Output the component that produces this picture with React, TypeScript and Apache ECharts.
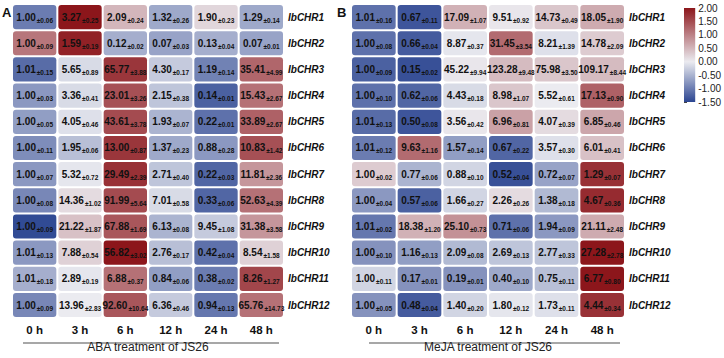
import React, { useEffect, useRef } from 'react';
import * as echarts from 'echarts';

const hours = ['0 h', '3 h', '6 h', '12 h', '24 h', '48 h'];
const genes = ['IbCHR1', 'IbCHR2', 'IbCHR3', 'IbCHR4', 'IbCHR5', 'IbCHR6', 'IbCHR7', 'IbCHR8', 'IbCHR9', 'IbCHR10', 'IbCHR11', 'IbCHR12'];

// ABA treatment: relative expression means and SDs
const abaMean = [
  [1.00, 3.27, 2.09, 1.32, 1.90, 1.29],
  [1.00, 1.59, 0.12, 0.07, 0.13, 0.07],
  [1.01, 5.65, 65.77, 4.30, 1.19, 35.41],
  [1.00, 3.36, 23.01, 2.15, 0.14, 15.43],
  [1.00, 4.05, 43.61, 1.93, 0.22, 33.89],
  [1.00, 1.95, 13.00, 1.37, 0.88, 10.83],
  [1.00, 5.32, 29.49, 2.71, 0.22, 11.81],
  [1.00, 14.36, 91.99, 7.01, 0.33, 52.63],
  [1.00, 21.22, 67.88, 6.13, 9.45, 31.38],
  [1.01, 7.88, 56.82, 2.76, 0.42, 8.54],
  [1.01, 2.89, 6.88, 0.84, 0.38, 8.26],
  [1.00, 13.96, 92.60, 6.36, 0.94, 65.76],
];
const abaSd = [
  [0.06, 0.25, 0.24, 0.26, 0.23, 0.14],
  [0.09, 0.19, 0.02, 0.03, 0.04, 0.01],
  [0.15, 0.89, 3.88, 0.17, 0.14, 4.99],
  [0.03, 0.41, 3.26, 0.38, 0.01, 2.67],
  [0.05, 0.46, 3.78, 0.07, 0.01, 2.67],
  [0.11, 0.06, 0.87, 0.23, 0.28, 1.42],
  [0.07, 0.72, 2.39, 0.40, 0.03, 2.36],
  [0.08, 1.02, 5.64, 0.58, 0.06, 4.39],
  [0.09, 1.87, 1.69, 0.08, 1.08, 3.58],
  [0.13, 0.54, 3.02, 0.17, 0.04, 1.58],
  [0.18, 0.19, 0.37, 0.06, 0.02, 1.27],
  [0.09, 2.83, 10.64, 0.46, 0.13, 14.73],
];
// colour scale values
const abaZ = [
  [-1.0, 2.0, 0.5, -0.6, 0.2, -0.6],
  [1.1, 1.9, -0.55, -0.65, -0.55, -0.65],
  [-1.15, -0.15, 1.7, -0.3, -0.95, 1.25],
  [-0.75, -0.15, 1.45, -0.35, -1.25, 1.15],
  [-0.7, -0.1, 1.5, -0.5, -1.1, 1.3],
  [-0.85, -0.4, 1.7, -0.6, -0.75, 1.45],
  [-0.75, -0.05, 1.75, -0.35, -1.2, 0.8],
  [-0.9, 0.15, 1.5, -0.15, -1.2, 1.15],
  [-1.45, 0.4, 1.4, -0.5, -0.3, 0.8],
  [-0.75, 0.25, 2.0, -0.4, -1.1, 0.25],
  [-0.55, -0.05, 1.15, -0.7, -1.0, 1.55],
  [-0.9, 0.0, 1.4, -0.3, -1.05, 1.15],
];

// MeJA treatment
const mejaMean = [
  [1.01, 0.67, 17.09, 9.51, 14.73, 18.05],
  [1.00, 0.66, 8.87, 31.45, 8.21, 14.78],
  [1.00, 0.15, 45.22, 123.28, 75.98, 109.17],
  [1.00, 0.62, 4.43, 8.98, 5.52, 17.13],
  [1.01, 0.50, 3.56, 6.96, 4.07, 6.85],
  [1.01, 9.63, 1.57, 0.67, 3.57, 6.01],
  [1.00, 0.77, 0.88, 0.52, 0.72, 1.29],
  [1.00, 0.57, 1.66, 2.26, 1.38, 4.67],
  [1.01, 18.38, 25.10, 0.71, 1.94, 21.11],
  [1.00, 1.16, 2.09, 2.69, 2.77, 27.28],
  [1.00, 0.17, 0.19, 0.40, 0.75, 6.77],
  [1.00, 0.48, 1.40, 1.80, 1.73, 4.44],
];
const mejaSd = [
  [0.16, 0.11, 1.07, 0.92, 0.49, 1.90],
  [0.08, 0.04, 0.37, 3.54, 1.39, 2.09],
  [0.09, 0.02, 9.94, 9.48, 3.50, 8.44],
  [0.10, 0.06, 0.18, 1.07, 0.61, 0.90],
  [0.13, 0.08, 0.42, 0.81, 0.39, 0.46],
  [0.12, 1.16, 0.14, 0.22, 0.30, 0.41],
  [0.02, 0.06, 0.10, 0.04, 0.07, 0.07],
  [0.04, 0.06, 0.27, 0.26, 0.18, 0.36],
  [0.02, 1.20, 0.73, 0.06, 0.09, 2.48],
  [0.10, 0.13, 0.08, 0.13, 0.33, 2.78],
  [0.11, 0.01, 0.01, 0.10, 0.11, 0.80],
  [0.05, 0.04, 0.20, 0.12, 0.11, 0.34],
];
const mejaZ = [
  [-1.1, -1.35, 0.55, 0.05, 0.35, 0.6],
  [-1.1, -1.3, -0.05, 1.2, -0.1, 0.3],
  [-1.25, -1.4, 0.05, 0.45, 0.35, 0.45],
  [-1.1, -1.2, -0.15, 0.35, 0.0, 1.3],
  [-1.15, -1.35, 0.05, 0.7, 0.15, 0.65],
  [-1.0, 1.2, -0.7, -1.2, -0.1, 0.4],
  [0.3, -0.5, -0.2, -1.4, -0.65, 1.75],
  [-0.75, -1.25, -0.2, 0.15, -0.45, 1.8],
  [-1.05, 0.55, 0.85, -1.1, -0.75, 0.6],
  [-0.8, -0.7, -0.45, -0.35, -0.35, 2.0],
  [-0.2, -0.8, -0.8, -0.6, -0.4, 2.0],
  [-0.8, -1.3, -0.2, -0.05, -0.1, 1.75],
];

const scaleMin = -1.5;
const scaleMax = 2.0;
const palette = ['#2b4591', '#6b7cb1', '#abb4d0', '#ebebf0', '#d3b6bb', '#bc8186', '#a44b50', '#8c161b'];

const FONT = '"Liberation Sans", Arial, Helvetica, sans-serif';

function buildData(mean: number[][], sd: number[][], z: number[][]) {
  const out: number[][] = [];
  for (let r = 0; r < mean.length; r++) {
    for (let c = 0; c < mean[r].length; c++) {
      out.push([c, r, z[r][c], mean[r][c], sd[r][c]]);
    }
  }
  return out;
}

const RICH = {
  v: { fontSize: 10, fontWeight: 'bold', fontFamily: FONT, lineHeight: 12, fill: '#111', color: '#111' },
  s: { fontSize: 6.5, fontWeight: 'bold', fontFamily: FONT, lineHeight: 7, padding: [6, 0, 0, 1], fill: '#111', color: '#111' },
};

function cellRender(params: any, api: any) {
  const c = api.value(0);
  const r = api.value(1);
  const pt = api.coord([c, r]);
  const sz = api.size([1, 1]);
  const w = sz[0];
  const h = sz[1];
  const mean = api.value(3) as number;
  const sd = api.value(4) as number;
  return {
    type: 'group',
    children: [
      {
        type: 'rect',
        shape: { x: pt[0] - w / 2 + 1, y: pt[1] - h / 2 + 1, width: w - 2, height: h - 2, r: 3 },
        style: { fill: api.visual('color') },
      },
      {
        type: 'text',
        x: pt[0],
        y: pt[1],
        style: {
          text: `{v|${mean.toFixed(2)}}{s|±${sd.toFixed(2)}}`,
          rich: RICH,
          align: 'center',
          verticalAlign: 'middle',
          fill: '#111',
        },
      },
    ],
  };
}

function colorbarRender(params: any, api: any) {
  const cs = params.coordSys;
  const stops = palette
    .slice()
    .reverse()
    .map((col, i) => ({ offset: i / (palette.length - 1), color: col }));
  return {
    type: 'rect',
    shape: { x: cs.x, y: cs.y, width: cs.width, height: cs.height },
    style: { fill: new echarts.graphic.LinearGradient(0, 0, 0, 1, stops) },
  };
}

function makeXAxis(gridIndex: number, name: string) {
  return {
    type: 'category',
    gridIndex,
    data: hours,
    position: 'bottom',
    axisLine: { show: false },
    axisTick: { show: false },
    axisLabel: { fontSize: 11.5, fontWeight: 'bold', color: '#111', margin: 6, fontFamily: FONT },
    name,
    nameLocation: 'middle',
    nameGap: 18,
    nameTextStyle: { fontSize: 12, color: '#222', fontFamily: FONT },
    splitLine: { show: false },
  };
}

function makeYAxis(gridIndex: number) {
  return {
    type: 'category',
    gridIndex,
    data: genes,
    inverse: true,
    position: 'right',
    axisLine: { show: false },
    axisTick: { show: false },
    axisLabel: { fontSize: 10, fontWeight: 'bold', fontStyle: 'italic', color: '#111', margin: 4, fontFamily: FONT },
    splitLine: { show: false },
  };
}

export default function App() {
  const ref = useRef<HTMLDivElement>(null);
  useEffect(() => {
    if (!ref.current) return;
    const chart = echarts.init(ref.current, undefined, { renderer: 'svg' });
    const option: any = {
      animation: false,
      backgroundColor: '#ffffff',
      textStyle: { fontFamily: FONT },
      grid: [
        { left: 12, top: 4, width: 272, height: 323 },
        { left: 351, top: 4, width: 274, height: 323 },
        { left: 684, top: 8, width: 13, height: 94 },
      ],
      xAxis: [
        makeXAxis(0, 'ABA treatment of JS26'),
        makeXAxis(1, 'MeJA treatment of JS26'),
        { type: 'value', gridIndex: 2, min: 0, max: 1, show: false },
      ],
      yAxis: [
        makeYAxis(0),
        makeYAxis(1),
        {
          type: 'value',
          gridIndex: 2,
          min: scaleMin,
          max: scaleMax,
          interval: 0.5,
          position: 'right',
          axisLine: { show: false },
          axisTick: { show: true, length: 3, lineStyle: { color: '#444' } },
          axisLabel: { fontSize: 10, color: '#222', margin: 3, fontFamily: FONT, formatter: (v: number) => v.toFixed(2) },
          splitLine: { show: false },
        },
      ],
      visualMap: {
        type: 'continuous',
        show: false,
        min: scaleMin,
        max: scaleMax,
        dimension: 2,
        seriesIndex: [0, 1],
        inRange: { color: palette },
      },
      series: [
        {
          type: 'custom',
          xAxisIndex: 0,
          yAxisIndex: 0,
          renderItem: cellRender,
          encode: { x: 0, y: 1 },
          data: buildData(abaMean, abaSd, abaZ),
        },
        {
          type: 'custom',
          xAxisIndex: 1,
          yAxisIndex: 1,
          renderItem: cellRender,
          encode: { x: 0, y: 1 },
          data: buildData(mejaMean, mejaSd, mejaZ),
        },
        {
          type: 'custom',
          xAxisIndex: 2,
          yAxisIndex: 2,
          renderItem: colorbarRender,
          data: [[0.5, 0]],
          silent: true,
        },
      ],
      graphic: [
        { type: 'text', left: 2, top: 6, style: { text: 'A', fontSize: 13, fontWeight: 'bold', fill: '#111', fontFamily: FONT } },
        { type: 'text', left: 337, top: 6, style: { text: 'B', fontSize: 13, fontWeight: 'bold', fill: '#111', fontFamily: FONT } },
        { type: 'line', shape: { x1: 23, y1: 343, x2: 279, y2: 343 }, style: { stroke: '#8a8a8a', lineWidth: 1.5 } },
        { type: 'line', shape: { x1: 369, y1: 343, x2: 620, y2: 343 }, style: { stroke: '#8a8a8a', lineWidth: 1.5 } },
      ],
    };
    chart.setOption(option);
    return () => {
      chart.dispose();
    };
  }, []);
  return <div ref={ref} style={{ position: 'fixed', left: 0, top: 0, width: 724, height: 358 }} />;
}
